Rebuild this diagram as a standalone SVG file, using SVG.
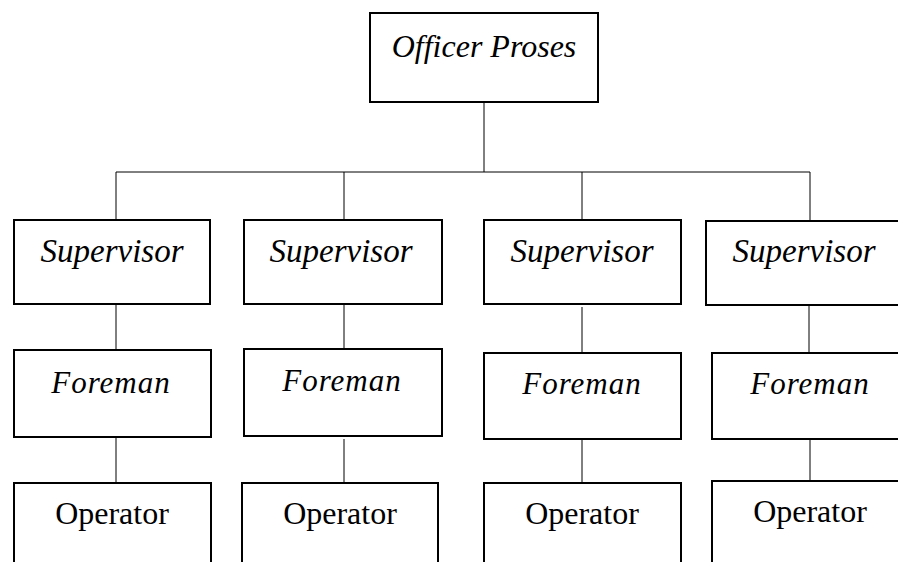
<svg xmlns="http://www.w3.org/2000/svg" width="898" height="562" viewBox="0 0 898 562">
<style>
.box{fill:#fff;stroke:#000;stroke-width:2}
.ln{stroke:#000;stroke-width:1;fill:none}
.it{font-family:"Liberation Serif","Times New Roman",serif;font-style:italic;font-size:32px;text-anchor:middle;fill:#000}
.sp{font-size:33px}
.fm{font-size:31px;letter-spacing:1px}
.rg{font-family:"Liberation Serif","Times New Roman",serif;font-size:32px;text-anchor:middle;fill:#000}
</style>
<rect width="898" height="562" fill="#fff"/>
<g id="connectors">
<line class="ln" x1="484" y1="102" x2="484" y2="172"/>
<line class="ln" x1="116" y1="172" x2="810" y2="172"/>
<line class="ln" x1="116" y1="172" x2="116" y2="220"/>
<line class="ln" x1="344" y1="172" x2="344" y2="220"/>
<line class="ln" x1="582" y1="172" x2="582" y2="220"/>
<line class="ln" x1="810" y1="172" x2="810" y2="220"/>
<line class="ln" x1="116" y1="304" x2="116" y2="350"/>
<line class="ln" x1="344" y1="302" x2="344" y2="349"/>
<line class="ln" x1="582" y1="307" x2="582" y2="353"/>
<line class="ln" x1="809" y1="305" x2="809" y2="353"/>
<line class="ln" x1="116" y1="437" x2="116" y2="483"/>
<line class="ln" x1="344" y1="439" x2="344" y2="483"/>
<line class="ln" x1="582" y1="439" x2="582" y2="483"/>
<line class="ln" x1="810" y1="435" x2="810" y2="481"/>
</g>
<g id="officer"><rect class="box" x="370" y="13" width="228" height="89"/><text class="it" x="484" y="57">Officer Proses</text></g>
<g id="sup1"><rect class="box" x="14" y="220" width="196" height="84"/><text class="it sp" x="112" y="262">Supervisor</text></g>
<g id="sup2"><rect class="box" x="244" y="220" width="198" height="84"/><text class="it sp" x="341" y="262">Supervisor</text></g>
<g id="sup3"><rect class="box" x="484" y="220" width="197" height="84"/><text class="it sp" x="582" y="262">Supervisor</text></g>
<g id="sup4"><rect class="box" x="706" y="221" width="200" height="84"/><text class="it sp" x="804" y="262">Supervisor</text></g>
<g id="fore1"><rect class="box" x="14" y="350" width="197" height="87"/><text class="it fm" x="111" y="393">Foreman</text></g>
<g id="fore2"><rect class="box" x="244" y="349" width="198" height="87"/><text class="it fm" x="342" y="391">Foreman</text></g>
<g id="fore3"><rect class="box" x="484" y="353" width="197" height="86"/><text class="it fm" x="582" y="394">Foreman</text></g>
<g id="fore4"><rect class="box" x="712" y="353" width="194" height="86"/><text class="it fm" x="810" y="394">Foreman</text></g>
<g id="op1"><rect class="box" x="14" y="483" width="197" height="90"/><text class="rg" x="112" y="524">Operator</text></g>
<g id="op2"><rect class="box" x="242" y="483" width="196" height="90"/><text class="rg" x="340" y="524">Operator</text></g>
<g id="op3"><rect class="box" x="484" y="483" width="197" height="90"/><text class="rg" x="582" y="524">Operator</text></g>
<g id="op4"><rect class="box" x="712" y="481" width="194" height="92"/><text class="rg" x="810" y="522">Operator</text></g>
</svg>
